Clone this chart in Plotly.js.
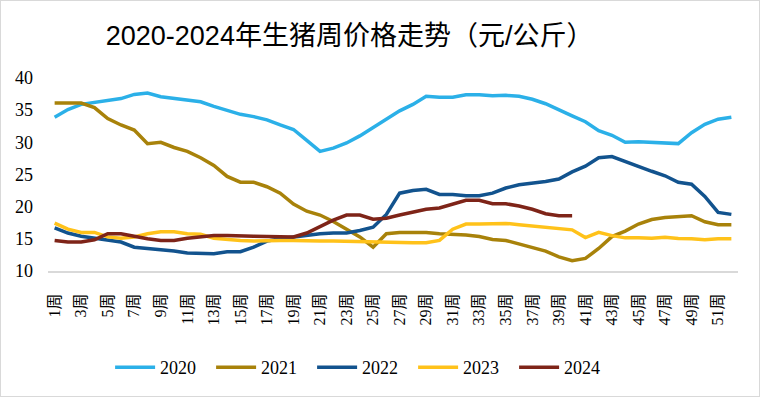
<!DOCTYPE html>
<html>
<head>
<meta charset="utf-8">
<script src="https://cdn.plot.ly/plotly-3.0.1.min.js"></script>
<style>
html,body{margin:0;padding:0;background:#fff;}
#wrap{position:relative;width:760px;height:398px;}
#chart{width:760px;height:398px;}
#frame{position:absolute;left:0;top:0;width:758px;height:395px;border:1px solid #d9d9d9;pointer-events:none;}
</style>
</head>
<body>
<div id="wrap"><div id="chart"></div><div id="frame"></div></div>
<script>
const weeks = Array.from({length: 52}, (_, i) => (i + 1) + '周');
const tickLabels = weeks.filter((_, i) => i % 2 === 0);

const y2020 = [33.9,35.1,35.9,36.2,36.5,36.8,37.45,37.65,37.1,36.8,36.6,36.3,35.6,35.0,34.35,34.0,33.5,32.7,32.0,30.3,28.6,29.1,29.9,31.0,32.3,33.6,34.9,35.9,37.15,37.0,37.0,37.4,37.4,37.25,37.3,37.15,36.7,36.0,35.0,34.1,33.2,31.8,31.1,30.0,30.1,30.0,29.8,29.8,31.5,32.8,33.6,33.9];
const y2021 = [36.1,36.1,36.1,35.4,33.7,32.7,31.9,29.8,30.0,29.2,28.6,27.6,26.4,24.7,23.8,23.8,23.1,22.1,20.4,19.3,18.7,17.7,16.5,15.3,13.7,15.8,16.0,16.0,16.0,15.8,15.7,15.6,15.35,14.9,14.75,14.2,13.6,13.1,12.2,11.6,11.95,13.5,15.35,16.2,17.3,18.0,18.3,18.4,18.6,17.65,17.2,17.2];
const y2022 = [16.7,15.9,15.4,15.1,14.75,14.5,13.7,13.5,13.4,13.1,12.8,12.7,12.7,13.0,13.0,13.7,14.65,15.0,15.3,15.6,15.8,15.9,15.9,16.3,16.8,18.8,22.1,22.5,22.7,21.9,21.9,21.7,21.7,22.1,22.9,23.4,23.6,23.9,24.3,25.4,26.3,27.6,27.8,27.0,26.3,25.5,24.8,23.8,23.5,21.6,19.1,18.8];
const y2023 = [17.45,16.5,16.0,16.0,15.3,15.1,15.3,15.8,16.1,16.1,15.8,15.7,15.1,14.9,14.75,14.65,14.75,14.75,14.75,14.65,14.65,14.65,14.6,14.55,14.5,14.4,14.4,14.4,14.4,14.75,16.5,17.3,17.3,17.4,17.4,17.2,17.0,16.8,16.6,16.4,15.2,16.0,15.5,15.15,15.15,15.1,15.25,15.05,15.0,14.85,15.0,15.0];
const y2024 = [14.75,14.5,14.5,14.85,15.8,15.8,15.4,15.0,14.75,14.75,15.1,15.35,15.5,15.5,15.5,15.4,15.35,15.3,15.3,15.9,16.9,17.9,18.7,18.7,18.05,18.2,18.7,19.2,19.6,19.8,20.45,21.0,21.0,20.45,20.45,20.1,19.6,18.9,18.6,18.6];

const seriesNames = ['2020','2021','2022','2023','2024'];
const seriesData = [y2020, y2021, y2022, y2023, y2024];
const colors = ['#2BB0E8','#A8820A','#12538E','#FFC21A','#7E2418'];

const traces = seriesData.map((ys, k) => ({
  type: 'scatter', mode: 'lines', name: seriesNames[k],
  x: weeks.slice(0, ys.length), y: ys,
  line: {color: colors[k], width: 3.5},
  hoverinfo: 'skip'
}));

const serif = 'Liberation Serif, Times New Roman, Noto Sans CJK SC, serif';
const layout = {
  width: 760, height: 398,
  paper_bgcolor: '#fff', plot_bgcolor: '#fff',
  font: {family: serif, color: '#000'},
  margin: {l: 48, r: 22, t: 78, b: 123},
  title: {
    text: '2020-2024年生猪周价格走势（元/公斤）',
    font: {family: 'Liberation Sans, Arial, Noto Sans CJK SC, sans-serif', size: 27, color: '#000'},
    x: 0.46, xanchor: 'center', y: 0.91, yanchor: 'middle'
  },
  xaxis: {
    type: 'category', categoryorder: 'array', categoryarray: weeks,
    range: [-0.5, 51.5],
    tickmode: 'array', tickvals: tickLabels, ticktext: tickLabels,
    tickangle: -90, showgrid: false, zeroline: false,
    showline: true, linecolor: '#d9d9d9', linewidth: 2,
    ticks: '', ticklen: 0, ticklabelstandoff: 14,
    tickfont: {family: serif, size: 16, color: '#000'}
  },
  yaxis: {
    range: [10, 40], dtick: 5, tick0: 10,
    showgrid: false, zeroline: false, showline: false,
    ticks: '',
    tickfont: {family: serif, size: 18, color: '#000'},
    ticklabelstandoff: 14
  },
  showlegend: true,
  legend: {
    orientation: 'h', x: 0.09, xanchor: 'left', y: -0.5, yanchor: 'middle',
    font: {family: serif, size: 18, color: '#000'},
    itemwidth: 40, entrywidth: 46, entrywidthmode: 'pixels', tracegroupgap: 0
  }
};

Plotly.newPlot('chart', traces, layout, {displayModeBar: false, staticPlot: true});
</script>
</body>
</html>
